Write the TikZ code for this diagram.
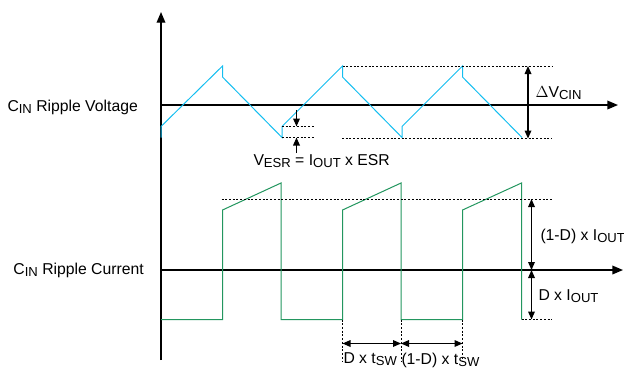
\documentclass[tikz,border=0pt]{standalone}
\usepackage{fontspec}
\setmainfont{Liberation Sans}
\usetikzlibrary{arrows.meta}

\definecolor{vcyan}{RGB}{20,190,240}
\definecolor{igreen}{RGB}{35,150,95}

\newcommand{\lowsub}[1]{\raisebox{-1.6pt}{\fontsize{9.8}{10}\selectfont #1}}

\tikzset{every picture/.style={line width=0.75pt}}
\tikzset{
  axis/.style={line width=1pt,-{Triangle[length=8pt,width=6.5pt]}},
  dimline/.style={line width=0.9pt,{Triangle[length=6pt,width=5pt]}-{Triangle[length=6pt,width=5pt]}},
  pointer/.style={line width=0.9pt,-{Triangle[length=6pt,width=5pt]}},
  guide/.style={line width=0.7pt,dash pattern={on 1.5pt off 1.3pt}},
  lbl/.style={inner sep=0pt,anchor=base west,font=\fontsize{11.8}{14}\selectfont},
}

\begin{document}
\begin{tikzpicture}[x=0.75pt,y=0.75pt,yscale=-1,xscale=1]
\path[use as bounding box] (0,0) rectangle (624,369);

%Axes
\coordinate (o) at (161,360);
\coordinate (ytop) at (161,12);
\coordinate (v0) at (161,105);
\coordinate (vend) at (618,105);
\coordinate (i0) at (161,270);
\coordinate (iend) at (623,270);
\draw[axis] (o) -- (ytop);
\draw[axis] (v0) -- (vend);
\draw[axis] (i0) -- (iend);

%Voltage ripple
\draw[vcyan] (161,137.5) -- (161,126.5) -- (222.5,66) -- (222.5,77) -- (282,137.5) -- (282,126.5) -- (342.5,66) -- (342.5,77) -- (402,137.5) -- (402,126.5) -- (462.5,66) -- (462.5,77) -- (522,137.5) ;

%Delta V guides
\coordinate (vpk) at (342.5,66);
\coordinate (vpkR) at (552,66);
\coordinate (vtr) at (342,138.5);
\coordinate (vtrR) at (552,138.5);
\draw[guide] (vpk) -- (vpkR);
\draw[guide] (vtr) -- (vtrR);
\coordinate (dvT) at (528,66);
\coordinate (dvB) at (528,138.5);
\draw[dimline] (dvT) -- (dvB);

%ESR step
\coordinate (esrT) at (282,126.5);
\coordinate (esrTR) at (314,126.5);
\coordinate (esrB) at (282,137.5);
\coordinate (esrBR) at (314,137.5);
\draw[guide] (esrT) -- (esrTR);
\draw[guide] (esrB) -- (esrBR);
\coordinate (esrA) at (296.5,110);
\coordinate (esrAT) at (296.5,126.5);
\coordinate (esrC) at (296.5,153);
\coordinate (esrCB) at (296.5,137.5);
\draw[pointer] (esrA) -- (esrAT);
\draw[pointer] (esrC) -- (esrCB);

%Current ripple
\draw[igreen] (161,319.5) -- (222.5,319.5) -- (222.5,210) -- (281,183) -- (281,319.5) -- (342.5,319.5) -- (342.5,210) -- (401,183) -- (401,319.5) -- (462.5,319.5) -- (462.5,210) -- (521.5,183) -- (521.5,319.5) ;

%Current guides
\coordinate (iav) at (221.5,199);
\coordinate (iavR) at (552,199);
\coordinate (ilo) at (521.5,319.5);
\coordinate (iloR) at (552,319.5);
\draw[guide] (iav) -- (iavR);
\draw[guide] (ilo) -- (iloR);
\coordinate (diT) at (531.5,199);
\coordinate (diM) at (531.5,270);
\coordinate (diB) at (531.5,319.5);
\draw[dimline] (diT) -- (diM);
\draw[dimline] (diM) -- (diB);

%Time guides
\coordinate (t1) at (342.5,319.5);
\coordinate (t2) at (401,319.5);
\coordinate (t3) at (462.5,319.5);
\coordinate (t1b) at (342.5,362);
\coordinate (t2b) at (401,362);
\coordinate (t3b) at (462.5,362);
\draw[guide] (t1) -- (t1b);
\draw[guide] (t2) -- (t2b);
\draw[guide] (t3) -- (t3b);
\coordinate (ta) at (342.5,343.5);
\coordinate (tb) at (401,343.5);
\coordinate (tc) at (462.5,343.5);
\draw[dimline] (ta) -- (tb);
\draw[dimline] (tb) -- (tc);

% Text Node
\node[lbl] (vlabel) at (7,111) {C\lowsub{IN} Ripple Voltage};
% Text Node
\node[lbl] (ilabel) at (13,274) {C\lowsub{IN} Ripple Current};
% Text Node
\node[lbl] (dvlabel) at (535,97) {$\Delta$V\lowsub{CIN}};
% Text Node
\node[lbl] (esrlabel) at (253,165) {V\lowsub{ESR} = I\lowsub{OUT} x ESR};
% Text Node
\node[lbl] (hilabel) at (540,240) {(1-D) x I\lowsub{OUT}};
% Text Node
\node[lbl] (lolabel) at (538,300) {D x I\lowsub{OUT}};
% Text Node
\node[lbl] (donlabel) at (343,363) {D x t\lowsub{SW}};
% Text Node
\node[lbl] (dofflabel) at (401,364) {(1-D) x t\lowsub{SW}};

\end{tikzpicture}
\end{document}
